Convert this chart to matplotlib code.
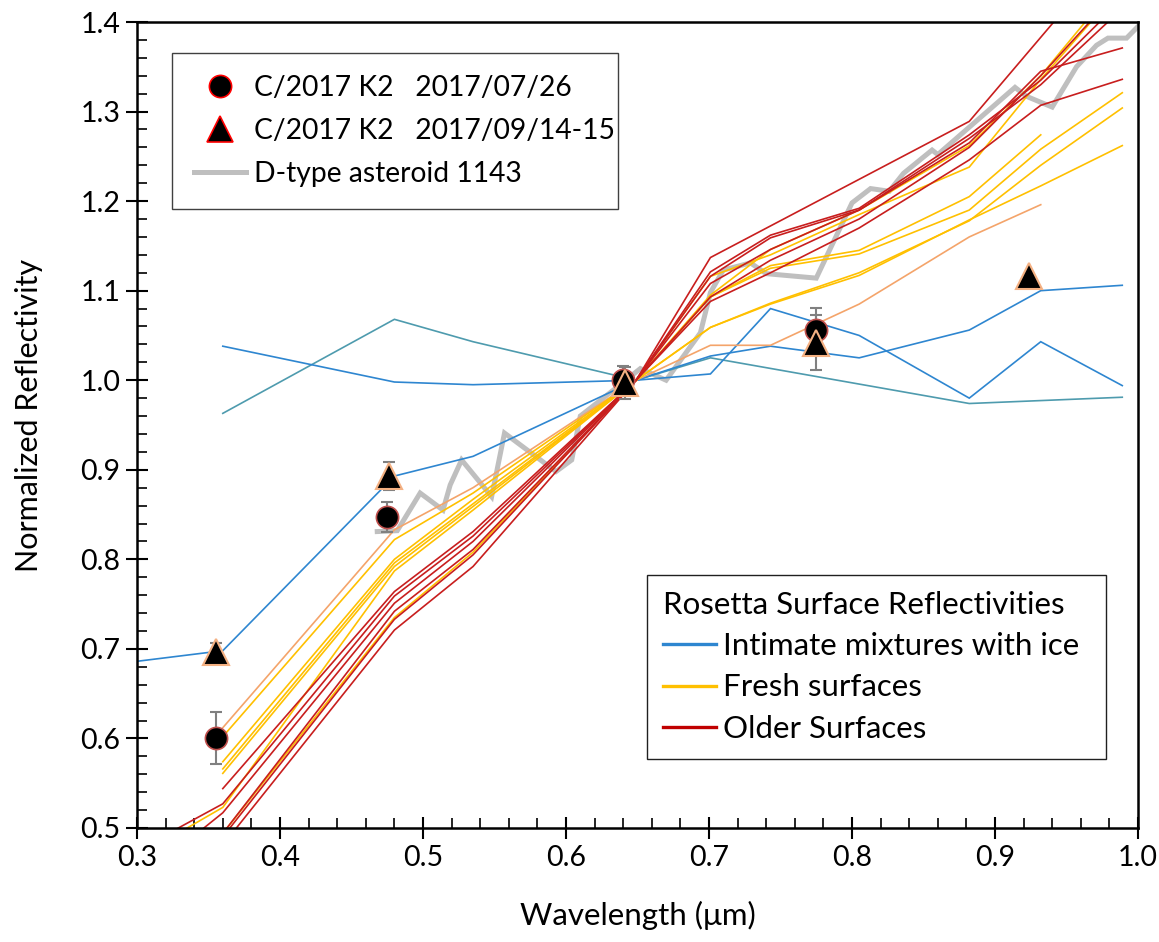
import numpy as np
import matplotlib
matplotlib.use("Agg")
import matplotlib.pyplot as plt
from matplotlib.lines import Line2D
from matplotlib.ticker import MultipleLocator

plt.rcParams['font.family'] = ['Lato', 'DejaVu Sans']

nan = np.nan
# OSIRIS filter wavelengths (um)
wl = [0.269, 0.360, 0.480, 0.535, 0.649, 0.701, 0.743, 0.805, 0.882, 0.932, 0.989]

# Rosetta: intimate mixtures with ice
ice_a = [nan, 1.038, 0.998, 0.995, 1.000, 1.007, 1.080, 1.050, 0.980, 1.043, 0.994]
ice_b = [0.680, 0.698, 0.893, 0.915, 1.000, 1.027, 1.038, 1.025, 1.056, 1.100, 1.106]
ice_c = [nan, 0.963, 1.068, 1.043, 1.000, 1.025, nan, nan, 0.974, nan, 0.981]

# Rosetta: fresh surfaces
fresh_orange = [nan, 0.612, 0.833, 0.880, 1.000, 1.039, 1.039, 1.085, 1.160, 1.196, nan]
fresh_a = [0.439, 0.523, 0.787, 0.855, 1.000, 1.116, 1.140, 1.185, 1.238, 1.336, 1.440]
fresh_b = [nan, 0.602, 0.822, 0.874, 1.000, 1.093, 1.128, 1.145, 1.205, 1.274, nan]
fresh_c = [nan, 0.574, 0.800, 0.867, 1.000, 1.093, 1.125, 1.141, 1.190, 1.258, 1.321]
fresh_d = [nan, 0.566, 0.796, 0.862, 1.000, 1.059, 1.086, 1.120, 1.178, 1.240, 1.304]
fresh_e = [nan, 0.561, 0.792, 0.859, 1.000, 1.059, 1.085, 1.117, 1.179, 1.217, 1.262]
fresh_f = [nan, 0.494, 0.735, 0.808, 1.000, 1.095, 1.146, 1.190, 1.262, 1.340, 1.450]

# Rosetta: older surfaces
old_a = [nan, 0.481, 0.721, 0.792, 1.000, 1.137, nan, nan, 1.289, nan, 1.490]
old_b = [nan, 0.490, 0.733, 0.805, 1.000, 1.121, 1.162, 1.192, 1.274, 1.335, 1.425]
old_c = [nan, 0.494, 0.742, 0.811, 1.000, 1.116, 1.159, 1.190, 1.270, 1.330, 1.415]
old_d = [0.400, 0.517, 0.751, 0.820, 1.000, 1.108, 1.146, 1.190, 1.265, 1.345, 1.371]
old_e = [0.448, 0.527, 0.759, 0.826, 1.000, 1.093, 1.134, 1.180, 1.260, 1.340, 1.440]
old_f = [nan, 0.544, 0.764, 0.831, 1.000, 1.088, 1.120, 1.170, 1.246, 1.307, 1.336]

# D-type asteroid 1143
dtype_x = [0.468, 0.482, 0.498, 0.514, 0.519, 0.527, 0.548, 0.557, 0.593, 0.604, 0.610,
           0.630, 0.652, 0.670, 0.694, 0.701, 0.710, 0.729, 0.740, 0.775, 0.800, 0.813,
           0.826, 0.836, 0.856, 0.860, 0.914, 0.922, 0.940, 0.957, 0.971, 0.979, 0.992, 1.000]
dtype_y = [0.831, 0.832, 0.874, 0.855, 0.883, 0.911, 0.870, 0.941, 0.898, 0.911, 0.960,
           0.985, 1.013, 1.000, 1.053, 1.098, 1.123, 1.131, 1.119, 1.114, 1.198, 1.214,
           1.211, 1.231, 1.257, 1.252, 1.327, 1.317, 1.305, 1.350, 1.374, 1.382, 1.382, 1.395]

# C/2017 K2 observations
jul_x = [0.355, 0.475, 0.640, 0.775]
jul_y = [0.600, 0.847, 1.000, 1.056]
jul_err = [0.029, 0.017, 0.016, 0.025]
sep_x = [0.355, 0.476, 0.641, 0.775, 0.924]
sep_y = [0.697, 0.893, 0.997, 1.042, 1.116]
sep_err = [0.010, 0.016, 0.018, 0.031, 0.0]

x_ticks = [0.3, 0.4, 0.5, 0.6, 0.7, 0.8, 0.9, 1.0]
y_ticks = [0.5, 0.6, 0.7, 0.8, 0.9, 1.0, 1.1, 1.2, 1.3, 1.4]

C_BLUE = '#2E86D0'
C_TEAL = '#4E9BAE'
C_YEL = '#FFC000'
C_ORG = '#F4A46A'
C_RED = '#C81E1E'
C_GRAY = '#BFBFBF'

W, H = 1159, 942
fig = plt.figure(figsize=(W / 100, H / 100), dpi=100)
ax = fig.add_axes([137 / W, (942 - 828) / H, (1138 - 137) / W, (828 - 22) / H])


def plot_series(vals, color, lw=1.2, z=2):
    x = np.array(wl)
    y = np.array(vals, dtype=float)
    m = ~np.isnan(y)
    ax.plot(x[m], y[m], color=color, lw=lw, zorder=z, solid_joinstyle='miter')


ax.plot(dtype_x, dtype_y, color=C_GRAY, lw=3.6, zorder=1.5, solid_joinstyle='miter')

plot_series(ice_c, C_TEAL)
plot_series(ice_a, C_BLUE)
plot_series(ice_b, C_BLUE)
plot_series(fresh_orange, C_ORG)
for s in [fresh_a, fresh_b, fresh_c, fresh_d, fresh_e, fresh_f]:
    plot_series(s, C_YEL, z=2.2)
for s in [old_a, old_b, old_c, old_d, old_e, old_f]:
    plot_series(s, C_RED, z=2.4)

ax.errorbar(jul_x, jul_y, yerr=jul_err, fmt='none', ecolor='#808080', elinewidth=1.5,
            capsize=4.5, capthick=1.5, zorder=3)
ax.errorbar(sep_x, sep_y, yerr=sep_err, fmt='none', ecolor='#808080', elinewidth=1.5,
            capsize=4.5, capthick=1.5, zorder=3)
ax.plot(jul_x, jul_y, 'o', ms=16, mfc='black', mec='#C0504D', mew=1.2, zorder=4)
ax.plot(sep_x, sep_y, '^', ms=19, mfc='black', mec='#F4B183', mew=1.5, zorder=5)

ax.set_xlim(0.3, 1.0)
ax.set_ylim(0.5, 1.4)
ax.set_xticks(x_ticks)
ax.set_yticks(y_ticks)
ax.set_xticklabels([f"{v:.1f}" for v in x_ticks])
ax.set_yticklabels([f"{v:.1f}" for v in y_ticks])
ax.xaxis.set_minor_locator(MultipleLocator(0.02))
ax.yaxis.set_minor_locator(MultipleLocator(0.02))
ax.tick_params(which='major', direction='inout', length=16, width=1.5, labelsize=20.5, pad=4)
ax.tick_params(which='minor', direction='in', length=7, width=1.2)
ax.tick_params(top=False, right=False, which='both')
for sp in ax.spines.values():
    sp.set_linewidth(1.8)

ax.set_xlabel('Wavelength (μm)', fontsize=22.5)
ax.set_ylabel('Normalized Reflectivity', fontsize=22)
ax.xaxis.set_label_coords(0.5, -0.09)
ax.yaxis.set_label_coords(-0.094, 0.512)

# Legend 1
h1 = [Line2D([], [], ls='none', marker='o', ms=16, mfc='black', mec='red', mew=1.2),
      Line2D([], [], ls='none', marker='^', ms=19, mfc='black', mec='red', mew=1.2),
      Line2D([], [], color=C_GRAY, lw=3.6)]
l1_labels = ['C/2017 K2   2017/07/26', 'C/2017 K2   2017/09/14-15', 'D-type asteroid 1143']
leg1 = ax.legend(h1, l1_labels, loc='upper left',
                 bbox_to_anchor=(172 / W, 1 - 215 / H, 446 / W, 162 / H),
                 bbox_transform=fig.transFigure, mode='expand', borderaxespad=0,
                 fontsize=20.3, frameon=True, fancybox=False, framealpha=1,
                 edgecolor='#404040', borderpad=0.78, labelspacing=0.6,
                 handlelength=1.85, handletextpad=0.28)
leg1.get_frame().set_linewidth(1.0)
ax.add_artist(leg1)

# Legend 2
h2 = [Line2D([], [], color=C_BLUE, lw=2.4),
      Line2D([], [], color=C_YEL, lw=2.4),
      Line2D([], [], color='#C00000', lw=2.4)]
leg2 = ax.legend(h2, ['Intimate mixtures with ice', 'Fresh surfaces', 'Older Surfaces'],
                 title='Rosetta Surface Reflectivities', title_fontsize=22.5,
                 alignment='left', loc='upper left',
                 bbox_to_anchor=(647 / W, 1 - 758 / H, 459 / W, 183 / H),
                 bbox_transform=fig.transFigure, mode='expand', borderaxespad=0,
                 fontsize=22.5, frameon=True, fancybox=False, framealpha=1,
                 edgecolor='#202020', borderpad=0.52, labelspacing=0.42,
                 handlelength=1.7, handletextpad=0.2)
leg2.get_frame().set_linewidth(1.0)

fig.savefig('out.png', dpi=100)
